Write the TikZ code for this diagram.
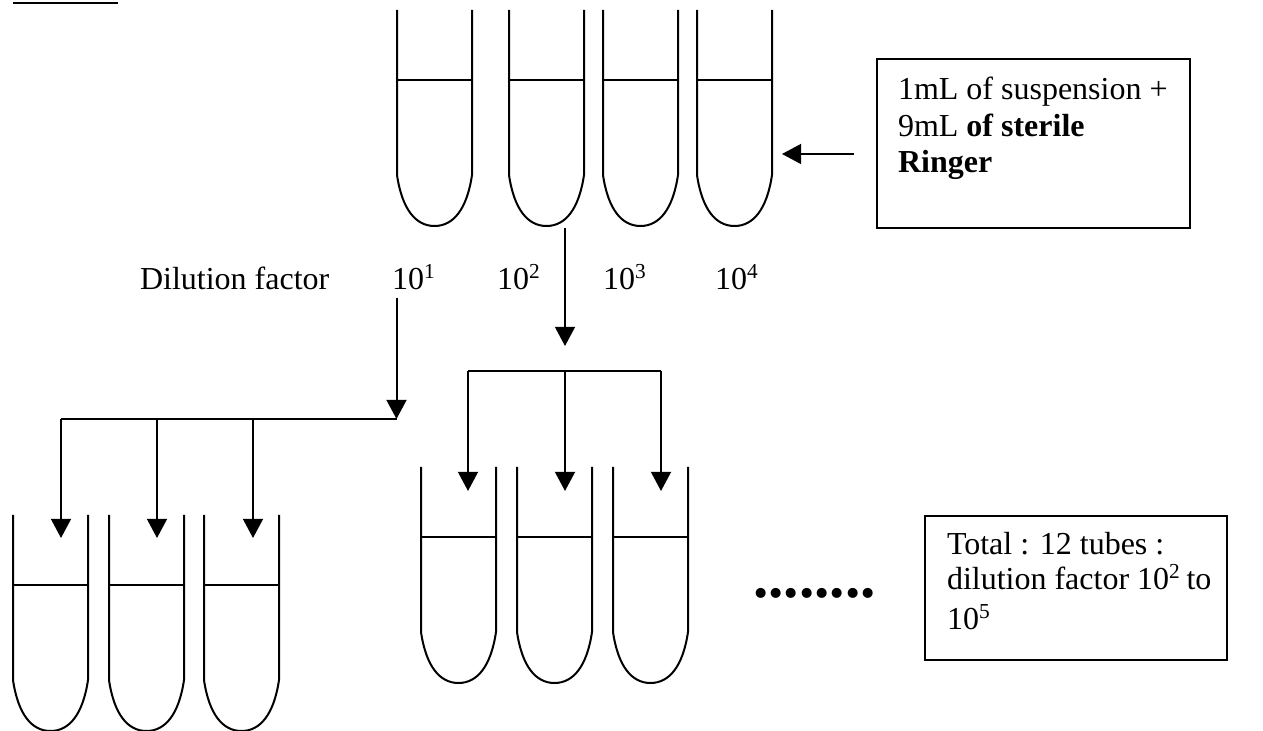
\documentclass[tikz,border=0pt]{standalone}
\usepackage{fontspec}
\setmainfont{Liberation Serif}
\usetikzlibrary{arrows.meta}
\begin{document}
\begin{tikzpicture}[x=0.375pt,y=-0.375pt,line width=0.75pt,
  every node/.style={inner sep=0pt,outer sep=0pt,font=\fontsize{12}{14}\selectfont},
  lbl/.style={anchor=base west},
  flow/.style={-{Triangle[width=7.5pt,length=7.2pt]}},
  infobox/.style={draw,anchor=north west}]
\useasboundingbox (0,0) rectangle (1263,731);

% a test tube: left edge x, rim y; rounded bottom and liquid level
\newcommand\testtube[2]{%
  \draw (#1,#2) -- ++(0,165)
    .. controls +(5,34) and +(-19,0) .. ++(37.5,51)
    .. controls +(19,0) and +(-5,34) .. ++(37.5,-51) -- ++(0,-165);
  \draw (#1,#2+70) -- (#1+75,#2+70);}

% heading underline
\draw (13,3.5) -- (118,3.5);

% first dilution series
\testtube{397}{10}
\testtube{509}{10}
\testtube{603}{10}
\testtube{697}{10}

\node[infobox,minimum width=117.4pt,minimum height=63.4pt] (rbox) at (877,59) {};
\node[lbl] (r1) at (898,100) {1mL of suspension +};
\node[lbl] (r2) at (898,137) {9mL \textbf{of sterile}};
\node[lbl] (r3) at (898,173) {\textbf{Ringer}};
\coordinate (feedtail) at (854,154);
\coordinate (feedtip) at (782,154);
\draw[flow] (feedtail) -- (feedtip);

% dilution factors
\node[lbl] (dil) at (140,290) {Dilution factor};
\node[lbl] (d1) at (392,290) {10\textsuperscript{1}};
\node[lbl] (d2) at (497,290) {10\textsuperscript{2}};
\node[lbl] (d3) at (603,290) {10\textsuperscript{3}};
\node[lbl] (d4) at (715,290) {10\textsuperscript{4}};

% plating of 10^1 in triplicate
\coordinate (s1) at (396.5,298);
\coordinate (h1) at (396.5,419);
\coordinate (a1) at (61,419);
\coordinate (a2) at (157,419);
\coordinate (a3) at (253,419);
\draw[flow] (s1) -- (h1);
\draw (h1) -- (a1);
\draw[flow] (a1) -- (61,538);
\draw[flow] (a2) -- (157,538);
\draw[flow] (a3) -- (253,538);
\testtube{13}{515}
\testtube{109}{515}
\testtube{204}{515}

% plating of 10^2 in triplicate
\coordinate (s2) at (565,228);
\coordinate (h2) at (565,346);
\coordinate (b1) at (468,371);
\coordinate (b2) at (565,371);
\coordinate (b3) at (661,371);
\draw[flow] (s2) -- (h2);
\draw (b1) -- (b3);
\draw[flow] (b1) -- (468,491);
\draw[flow] (b2) -- (565,491);
\draw[flow] (b3) -- (661,491);
\testtube{421}{467}
\testtube{517}{467}
\testtube{613}{467}

\node[lbl,font=\fontsize{23}{28}\selectfont\bfseries] (dots) at (753,598) {........};

\node[infobox,minimum width=113.25pt,minimum height=54pt] (tbox) at (925,516) {};
\node[lbl] (t1) at (947,554) {Total : 12 tubes :};
\node[lbl] (t2) at (947,590) {dilution factor 10\textsuperscript{2}\,to};
\node[lbl] (t3) at (947,630) {10\textsuperscript{5}};
\end{tikzpicture}
\end{document}
